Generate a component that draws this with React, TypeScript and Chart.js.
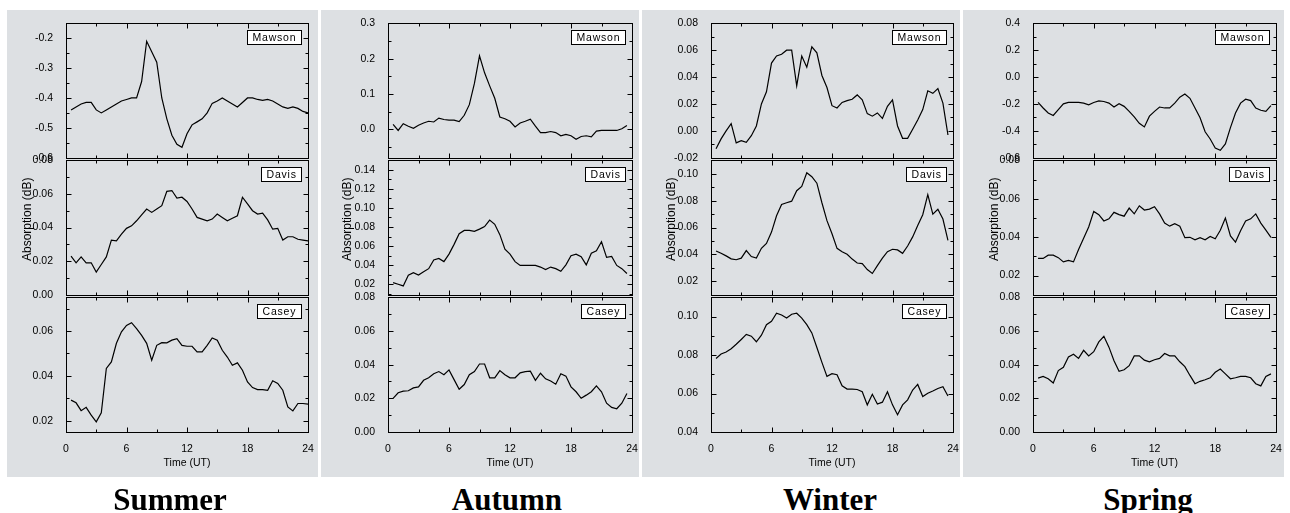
import React, { useEffect, useRef } from 'react';
import { Chart, registerables } from 'chart.js';

Chart.register(...registerables);

// ---------------- DATA ----------------
const HOURS = [0.5, 1, 1.5, 2, 2.5, 3, 3.5, 4, 4.5, 5, 5.5, 6, 6.5, 7, 7.5, 8, 8.5, 9, 9.5, 10, 10.5, 11, 11.5, 12,
  12.5, 13, 13.5, 14, 14.5, 15, 15.5, 16, 16.5, 17, 17.5, 18, 18.5, 19, 19.5, 20, 20.5, 21, 21.5, 22, 22.5, 23, 23.5, 24];

const SEASONS = ['Summer', 'Autumn', 'Winter', 'Spring'];
const STATIONS = ['Mawson', 'Davis', 'Casey'];
const X_TICKS = [0, 6, 12, 18, 24];
const X_MINOR_TICKS = [3, 9, 15, 21];
const X_TITLE = 'Time (UT)';
const Y_TITLE = 'Absorption (dB)';

const SUMMER_MAWSON = [-0.44, -0.43, -0.42, -0.415, -0.415, -0.44, -0.45, -0.44, -0.43, -0.42,
  -0.41, -0.405, -0.40, -0.40, -0.345, -0.21, -0.245, -0.28, -0.40, -0.47,
  -0.525, -0.555, -0.565, -0.52, -0.49, -0.48, -0.47, -0.45, -0.418, -0.41,
  -0.40, -0.41, -0.42, -0.43, -0.415, -0.40, -0.40, -0.405, -0.408, -0.405,
  -0.41, -0.42, -0.43, -0.435, -0.43, -0.435, -0.445, -0.45];
const SUMMER_DAVIS = [0.023, 0.019, 0.0225, 0.019, 0.019, 0.0135, 0.018, 0.0225, 0.0325, 0.032,
  0.036, 0.0395, 0.041, 0.044, 0.0475, 0.051, 0.049, 0.051, 0.053, 0.0615,
  0.062, 0.0575, 0.058, 0.0555, 0.051, 0.046, 0.045, 0.044, 0.045, 0.048,
  0.046, 0.044, 0.0455, 0.047, 0.058, 0.054, 0.050, 0.048, 0.0485, 0.0445,
  0.039, 0.0395, 0.0325, 0.0345, 0.0345, 0.033, 0.0325, 0.032];
const SUMMER_CASEY = [0.0292, 0.028, 0.0245, 0.026, 0.0225, 0.0195, 0.0235, 0.0433, 0.0462, 0.0545,
  0.0596, 0.0625, 0.0637, 0.061, 0.058, 0.0545, 0.047, 0.0536, 0.0548, 0.0547,
  0.0559, 0.0566, 0.0536, 0.0532, 0.0532, 0.0507, 0.0507, 0.0536, 0.0569, 0.0559,
  0.0514, 0.0484, 0.0447, 0.0458, 0.0425, 0.0373, 0.0348, 0.0339, 0.0339, 0.0336,
  0.0378, 0.0366, 0.0336, 0.0262, 0.0244, 0.0277, 0.0277, 0.0274];

const AUTUMN_MAWSON = [0.014, -0.003, 0.016, 0.009, 0.003, 0.012, 0.018, 0.023, 0.021, 0.032,
  0.028, 0.026, 0.026, 0.022, 0.04, 0.07, 0.13, 0.208, 0.16, 0.123,
  0.088, 0.035, 0.03, 0.023, 0.007, 0.018, 0.023, 0.029, 0.009, -0.009,
  -0.009, -0.006, -0.009, -0.018, -0.014, -0.018, -0.028, -0.02, -0.018, -0.021,
  -0.005, -0.003, -0.003, -0.003, -0.003, 0.002, 0.011];
const AUTUMN_DAVIS = [0.0216, 0.020, 0.0182, 0.0295, 0.032, 0.0297, 0.033, 0.0363, 0.0455, 0.047,
  0.0437, 0.0516, 0.0618, 0.073, 0.0764, 0.0764, 0.0754, 0.0778, 0.0805, 0.0873,
  0.0829, 0.072, 0.0567, 0.0516, 0.0437, 0.0397, 0.0397, 0.0397, 0.0397, 0.038,
  0.0353, 0.038, 0.0363, 0.0335, 0.0403, 0.0499, 0.0516, 0.0488, 0.0403, 0.0526,
  0.055, 0.0645, 0.0482, 0.0492, 0.0397, 0.0363, 0.0312];
const AUTUMN_CASEY = [0.020, 0.0233, 0.0243, 0.0245, 0.0262, 0.0268, 0.0307, 0.0322, 0.0346, 0.0359,
  0.034, 0.0369, 0.0311, 0.0254, 0.0282, 0.034, 0.0359, 0.0404, 0.0404, 0.0322,
  0.0322, 0.0365, 0.034, 0.0322, 0.0322, 0.0351, 0.0359, 0.0361, 0.0307, 0.0349,
  0.0316, 0.0303, 0.0284, 0.0346, 0.0332, 0.0268, 0.0239, 0.020, 0.0219, 0.0239,
  0.0274, 0.0239, 0.0171, 0.0146, 0.0138, 0.0171, 0.0229];

const WINTER_MAWSON = [-0.0133, -0.006, 0.0, 0.0053, -0.009, -0.0073, -0.0085, -0.0036, 0.0036, 0.020,
  0.029, 0.0504, 0.0557, 0.057, 0.060, 0.060, 0.0335, 0.0557, 0.0473, 0.0625,
  0.058, 0.0412, 0.0322, 0.0187, 0.017, 0.0211, 0.0225, 0.0235, 0.0267, 0.023,
  0.0128, 0.0109, 0.0133, 0.0092, 0.0182, 0.023, 0.0036, -0.0056, -0.0056, 0.0012,
  0.008, 0.0158, 0.0298, 0.0279, 0.0315, 0.0206, -0.0031];
const WINTER_DAVIS = [0.0425, 0.0408, 0.0389, 0.0367, 0.036, 0.0372, 0.0428, 0.0384, 0.0372, 0.0445,
  0.0481, 0.0566, 0.0687, 0.0772, 0.0784, 0.0796, 0.0874, 0.0905, 0.1007, 0.0978,
  0.093, 0.0784, 0.0651, 0.0554, 0.0445, 0.042, 0.0401, 0.0365, 0.0336, 0.0331,
  0.0287, 0.0258, 0.0316, 0.0372, 0.042, 0.0438, 0.0433, 0.0408, 0.0462, 0.053,
  0.0615, 0.0695, 0.0845, 0.0699, 0.0736, 0.0663, 0.0505];
const WINTER_CASEY = [0.0782, 0.0805, 0.0816, 0.0833, 0.0856, 0.0881, 0.0907, 0.0898, 0.0869, 0.0903,
  0.0958, 0.0975, 0.1017, 0.1008, 0.0992, 0.1012, 0.1017, 0.0992, 0.0958, 0.0915,
  0.0839, 0.0762, 0.0689, 0.0703, 0.0698, 0.064, 0.0623, 0.0623, 0.0621, 0.0609,
  0.0541, 0.0596, 0.0545, 0.0555, 0.0609, 0.0541, 0.049, 0.0541, 0.0567, 0.0618,
  0.0647, 0.0584, 0.0601, 0.0613, 0.0626, 0.0635, 0.0587];

const SPRING_MAWSON = [-0.189, -0.23, -0.267, -0.286, -0.242, -0.199, -0.189, -0.189, -0.189, -0.194,
  -0.206, -0.189, -0.177, -0.182, -0.194, -0.223, -0.199, -0.218, -0.255, -0.296,
  -0.344, -0.371, -0.291, -0.255, -0.223, -0.23, -0.23, -0.194, -0.15, -0.126,
  -0.158, -0.23, -0.303, -0.407, -0.461, -0.528, -0.545, -0.497, -0.376, -0.267,
  -0.194, -0.165, -0.175, -0.23, -0.247, -0.255, -0.213];
const SPRING_DAVIS = [0.0289, 0.0289, 0.0306, 0.0306, 0.0293, 0.0271, 0.0279, 0.0271, 0.0335, 0.0394,
  0.0453, 0.0534, 0.0517, 0.0484, 0.0495, 0.0529, 0.0517, 0.0509, 0.0551, 0.0521,
  0.0563, 0.0541, 0.0546, 0.0558, 0.0521, 0.0473, 0.0457, 0.047, 0.0457, 0.0397,
  0.0399, 0.0386, 0.0397, 0.0386, 0.0403, 0.0391, 0.0436, 0.0499, 0.0406, 0.0374,
  0.0433, 0.0484, 0.0495, 0.0521, 0.0473, 0.0436, 0.0399];
const SPRING_CASEY = [0.032, 0.033, 0.0316, 0.0291, 0.0365, 0.0384, 0.0446, 0.0462, 0.0437, 0.0485,
  0.0452, 0.0477, 0.0535, 0.0568, 0.0504, 0.0423, 0.0361, 0.037, 0.0394, 0.0452,
  0.0452, 0.0427, 0.0417, 0.0429, 0.0437, 0.0466, 0.0452, 0.0452, 0.0417, 0.0388,
  0.0336, 0.0287, 0.0301, 0.031, 0.0322, 0.0355, 0.0374, 0.0345, 0.0316, 0.0322,
  0.033, 0.033, 0.0322, 0.0287, 0.0274, 0.033, 0.0345];

// y ranges [min, max] and tick labels
const SUMMER_MAWSON_RANGE = [-0.6, -0.15];
const SUMMER_MAWSON_TICKS = ['-0.6', '-0.5', '-0.4', '-0.3', '-0.2'];
const SUMMER_DAVIS_RANGE = [0, 0.08];
const SUMMER_DAVIS_TICKS = ['0.00', '0.02', '0.04', '0.06', '0.08'];
const SUMMER_CASEY_RANGE = [0.015, 0.075];
const SUMMER_CASEY_TICKS = ['0.02', '0.04', '0.06'];

const AUTUMN_MAWSON_RANGE = [-0.08, 0.3];
const AUTUMN_MAWSON_TICKS = ['0.0', '0.1', '0.2', '0.3'];
const AUTUMN_DAVIS_RANGE = [0.009, 0.15];
const AUTUMN_DAVIS_TICKS = ['0.02', '0.04', '0.06', '0.08', '0.10', '0.12', '0.14'];
const AUTUMN_CASEY_RANGE = [0, 0.08];
const AUTUMN_CASEY_TICKS = ['0.00', '0.02', '0.04', '0.06', '0.08'];

const WINTER_MAWSON_RANGE = [-0.02, 0.08];
const WINTER_MAWSON_TICKS = ['-0.02', '0.00', '0.02', '0.04', '0.06', '0.08'];
const WINTER_DAVIS_RANGE = [0.01, 0.11];
const WINTER_DAVIS_TICKS = ['0.02', '0.04', '0.06', '0.08', '0.10'];
const WINTER_CASEY_RANGE = [0.04, 0.11];
const WINTER_CASEY_TICKS = ['0.04', '0.06', '0.08', '0.10'];

const SPRING_MAWSON_RANGE = [-0.6, 0.4];
const SPRING_MAWSON_TICKS = ['-0.6', '-0.4', '-0.2', '0.0', '0.2', '0.4'];
const SPRING_DAVIS_RANGE = [0.01, 0.08];
const SPRING_DAVIS_TICKS = ['0.02', '0.04', '0.06', '0.08'];
const SPRING_CASEY_RANGE = [0, 0.08];
const SPRING_CASEY_TICKS = ['0.00', '0.02', '0.04', '0.06', '0.08'];

const SERIES = [
  [SUMMER_MAWSON, SUMMER_DAVIS, SUMMER_CASEY],
  [AUTUMN_MAWSON, AUTUMN_DAVIS, AUTUMN_CASEY],
  [WINTER_MAWSON, WINTER_DAVIS, WINTER_CASEY],
  [SPRING_MAWSON, SPRING_DAVIS, SPRING_CASEY],
];
const RANGES = [
  [SUMMER_MAWSON_RANGE, SUMMER_DAVIS_RANGE, SUMMER_CASEY_RANGE],
  [AUTUMN_MAWSON_RANGE, AUTUMN_DAVIS_RANGE, AUTUMN_CASEY_RANGE],
  [WINTER_MAWSON_RANGE, WINTER_DAVIS_RANGE, WINTER_CASEY_RANGE],
  [SPRING_MAWSON_RANGE, SPRING_DAVIS_RANGE, SPRING_CASEY_RANGE],
];
const TICKS = [
  [SUMMER_MAWSON_TICKS, SUMMER_DAVIS_TICKS, SUMMER_CASEY_TICKS],
  [AUTUMN_MAWSON_TICKS, AUTUMN_DAVIS_TICKS, AUTUMN_CASEY_TICKS],
  [WINTER_MAWSON_TICKS, WINTER_DAVIS_TICKS, WINTER_CASEY_TICKS],
  [SPRING_MAWSON_TICKS, SPRING_DAVIS_TICKS, SPRING_CASEY_TICKS],
];

// ---------------- LAYOUT ----------------
const PANEL_TOP = 10;
const PANEL_BOTTOM = 477;
const COLS = [
  { left: 7, right: 318, plotLeft: 66, plotRight: 308, seasonX: 170, yTitleOff: 38 },
  { left: 321, right: 639, plotLeft: 388, plotRight: 632, seasonX: 507, yTitleOff: 40 },
  { left: 642, right: 960, plotLeft: 711, plotRight: 953, seasonX: 830, yTitleOff: 39 },
  { left: 963, right: 1284, plotLeft: 1033, plotRight: 1276, seasonX: 1148, yTitleOff: 38 },
];
const ROW_TOPS = [22, 159, 296];
const ROW_BOTTOMS = [159, 296, 432];
const PAD_TOP = 10;
const PAD_RIGHT = 14;
const PAD_BOTTOM = 10;
const X_AXIS_H = 45;
const GRAY = '#dde0e3';
const FONT = '"Liberation Sans", Arial, sans-serif';

const panelDeco = {
  id: 'panelDeco',
  afterDatasetsDraw(chart: any, _args: any, opts: any) {
    const { ctx, chartArea: a, scales } = chart;
    const xs = scales.x;
    const ys = scales.y;
    const L = Math.round(a.left) + 0.5;
    const R = Math.round(a.right) + 0.5;
    const T = Math.round(a.top) + 0.5;
    const B = Math.round(a.bottom) + 0.5;
    ctx.save();
    ctx.strokeStyle = '#000';
    ctx.lineWidth = 1;
    const line = (x1: number, y1: number, x2: number, y2: number) => {
      ctx.beginPath();
      ctx.moveTo(x1, y1);
      ctx.lineTo(x2, y2);
      ctx.stroke();
    };
    ctx.strokeRect(L, T, R - L, B - T);
    const MAJ = 5;
    const MIN = 3;
    X_TICKS.forEach((v) => {
      if (v <= 0 || v >= 24) return;
      const px = Math.round(xs.getPixelForValue(v)) + 0.5;
      line(px, T, px, T + MAJ);
      line(px, B, px, B - MAJ);
    });
    X_MINOR_TICKS.forEach((v) => {
      const px = Math.round(xs.getPixelForValue(v)) + 0.5;
      line(px, T, px, T + MIN);
      line(px, B, px, B - MIN);
    });
    const majors: number[] = opts.majors;
    const [ymin, ymax] = opts.range;
    const step = majors.length > 1 ? majors[1] - majors[0] : 0.02;
    const minors: number[] = [];
    minors.push(majors[0] - step / 2);
    for (let i = 0; i < majors.length - 1; i++) minors.push((majors[i] + majors[i + 1]) / 2);
    minors.push(majors[majors.length - 1] + step / 2);
    const eps = 1e-9;
    majors.forEach((v) => {
      if (v <= ymin + eps || v >= ymax - eps) return;
      const py = Math.round(ys.getPixelForValue(v)) + 0.5;
      line(L, py, L + MAJ, py);
      line(R, py, R - MAJ, py);
    });
    minors.forEach((v) => {
      if (v <= ymin + eps || v >= ymax - eps) return;
      const py = Math.round(ys.getPixelForValue(v)) + 0.5;
      line(L, py, L + MIN, py);
      line(R, py, R - MIN, py);
    });

    // station label box
    ctx.font = `10.5px ${FONT}`;
    (ctx as any).letterSpacing = '0.8px';
    const tw = ctx.measureText(opts.label).width;
    const bw = Math.round(tw + 10);
    const bh = 14;
    const bx = Math.round(a.right) - 7 - bw;
    const by = Math.round(a.top) + 7;
    ctx.fillStyle = '#fff';
    ctx.fillRect(bx, by, bw, bh);
    ctx.strokeRect(bx + 0.5, by + 0.5, bw, bh);
    ctx.fillStyle = '#000';
    ctx.textAlign = 'left';
    ctx.textBaseline = 'middle';
    ctx.fillText(opts.label, bx + 5.5, by + bh / 2 + 1);
    (ctx as any).letterSpacing = '0px';

    if (opts.yTitle) {
      ctx.translate(a.left - opts.yTitleOff, a.top + 59);
      ctx.rotate(-Math.PI / 2);
      ctx.font = `12px ${FONT}`;
      ctx.textAlign = 'center';
      ctx.textBaseline = 'middle';
      ctx.fillText(Y_TITLE, 0, 0);
    }
    ctx.restore();
  },
};

function Cell({ c, r }: { c: number; r: number }) {
  const ref = useRef<HTMLCanvasElement>(null);
  const col = COLS[c];
  const isBottom = r === 2;
  const top = ROW_TOPS[r] - PAD_TOP;
  const height = ROW_BOTTOMS[r] - ROW_TOPS[r] + PAD_TOP + (isBottom ? X_AXIS_H : PAD_BOTTOM);
  const left = col.left;
  const width = col.plotRight - left + PAD_RIGHT;

  useEffect(() => {
    const values = SERIES[c][r];
    const range = RANGES[c][r];
    const labels = TICKS[c][r];
    const majors = labels.map((s) => parseFloat(s));
    const chart = new Chart(ref.current as HTMLCanvasElement, {
      type: 'line',
      data: {
        datasets: [
          {
            data: values.map((v, i) => ({ x: HOURS[i], y: v })),
            borderColor: '#000',
            borderWidth: 1.2,
            pointRadius: 0,
            tension: 0,
            fill: false,
          },
        ],
      },
      options: {
        responsive: false,
        animation: false,
        events: [],
        layout: { padding: { left: 0, top: PAD_TOP, right: PAD_RIGHT, bottom: isBottom ? 0 : PAD_BOTTOM } },
        plugins: {
          legend: { display: false },
          tooltip: { enabled: false },
          title: { display: false },
          panelDeco: {
            label: STATIONS[r],
            majors,
            range,
            yTitle: r === 1,
            yTitleOff: col.yTitleOff,
          },
        } as any,
        scales: {
          x: {
            type: 'linear',
            min: 0,
            max: 24,
            display: isBottom,
            grid: { display: false },
            border: { display: false },
            afterBuildTicks: (s: any) => {
              s.ticks = X_TICKS.map((v) => ({ value: v }));
            },
            afterFit: (s: any) => {
              if (isBottom) s.height = X_AXIS_H;
            },
            ticks: {
              color: '#000',
              font: { family: FONT, size: 10.5 },
              padding: 3,
              maxRotation: 0,
              autoSkip: false,
              callback: (v: any) => String(v),
            },
            title: {
              display: true,
              text: X_TITLE,
              color: '#000',
              font: { family: FONT, size: 10.5 },
              padding: { top: 0, bottom: 7.7 },
            },
          },
          y: {
            type: 'linear',
            min: range[0],
            max: range[1],
            grid: { display: false },
            border: { display: false },
            afterBuildTicks: (s: any) => {
              s.ticks = majors.map((v) => ({ value: v }));
            },
            afterFit: (s: any) => {
              s.width = col.plotLeft - left;
            },
            ticks: {
              color: '#000',
              font: { family: FONT, size: 10.5 },
              padding: 5,
              autoSkip: false,
              callback: (_v: any, i: number) => labels[i],
            },
          },
        },
      } as any,
      plugins: [panelDeco],
    });
    return () => chart.destroy();
  }, []);

  return (
    <canvas
      ref={ref}
      width={width}
      height={height}
      style={{ position: 'absolute', left, top, width, height }}
    />
  );
}

export default function App() {
  return (
    <div
      style={{
        position: 'absolute',
        left: 0,
        top: 0,
        width: 1290,
        height: 513,
        background: '#fff',
        overflow: 'hidden',
      }}
    >
      {COLS.map((col, c) => (
        <div
          key={'p' + c}
          style={{
            position: 'absolute',
            left: col.left,
            top: PANEL_TOP,
            width: col.right - col.left,
            height: PANEL_BOTTOM - PANEL_TOP,
            background: GRAY,
          }}
        />
      ))}
      {COLS.map((_col, c) => [0, 1, 2].map((r) => <Cell key={c + '-' + r} c={c} r={r} />))}
      {COLS.map((col, c) => (
        <div
          key={'s' + c}
          style={{
            position: 'absolute',
            left: col.seasonX - 100,
            top: 484,
            width: 200,
            textAlign: 'center',
            font: 'bold 31px "Liberation Serif", "Times New Roman", serif',
            lineHeight: '31px',
            color: '#000',
          }}
        >
          {SEASONS[c]}
        </div>
      ))}
    </div>
  );
}
